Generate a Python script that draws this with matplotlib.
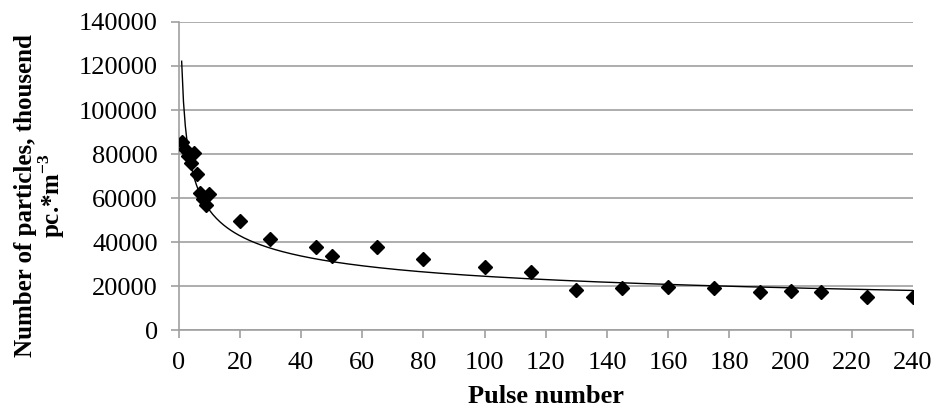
import numpy as np
import matplotlib.pyplot as plt

# measured points (pulse number, particles)
pulse = [1, 2, 3, 4, 5, 6, 7, 8, 9, 10, 20, 30, 45, 50, 65, 80, 100, 115,
         130, 145, 160, 175, 190, 200, 210, 225, 240]
particles = [85500, 82500, 79000, 76000, 80500, 71000, 62500, 59500, 57000, 62000,
             49700, 41200, 37900, 33600, 37900, 32300, 28800, 26500,
             18200, 18900, 19700, 18900, 17100, 17900, 17100, 15200, 15200]

xticks = list(range(0, 241, 20))
yticks = list(range(0, 140001, 20000))

plt.rcParams['font.family'] = ['Liberation Serif', 'DejaVu Serif']
plt.rcParams['mathtext.fontset'] = 'custom'
plt.rcParams['mathtext.rm'] = 'Liberation Serif'
plt.rcParams['mathtext.bf'] = 'Liberation Serif:bold'

# power trendline as in Excel (fit in log-log space)
coef = np.polyfit(np.log(pulse), np.log(particles), 1)
xfit = np.linspace(1, 240, 400)
yfit = np.exp(coef[1]) * xfit ** coef[0]

fig = plt.figure(figsize=(9.37, 4.11), dpi=100)
ax = fig.add_axes([0.1906, 0.197, 0.7838, 0.7495])

ax.plot(xfit, yfit, color='black', linewidth=1.0, zorder=2)
ax.plot(pulse, particles, 'D', color='black', markersize=7.5, zorder=3)

ax.set_xlim(0, 240)
ax.set_ylim(0, 140000)
ax.set_xticks(xticks)
ax.set_yticks(yticks)
ax.yaxis.grid(True, color='#a0a0a0', linewidth=1.2)
ax.set_axisbelow(True)

for s in ['top', 'right']:
    ax.spines[s].set_visible(False)
for s in ['left', 'bottom']:
    ax.spines[s].set_color('#a0a0a0')
    ax.spines[s].set_linewidth(1.2)
ax.tick_params(axis='both', colors='#a0a0a0', labelcolor='black',
               labelsize=19, length=6, width=1.2, direction='out')
ax.tick_params(axis='x', pad=10)
ax.tick_params(axis='y', pad=9)

ax.set_xlabel('Pulse number', fontsize=19, fontweight='bold', labelpad=8)
ax.set_ylabel('Number of particles, thousend\npc.*m$^{\\mathbf{-3}}$', fontsize=18,
              fontweight='bold', linespacing=0.95)
ax.yaxis.set_label_coords(-0.152, 0.438)

plt.savefig('out.png', dpi=100)
